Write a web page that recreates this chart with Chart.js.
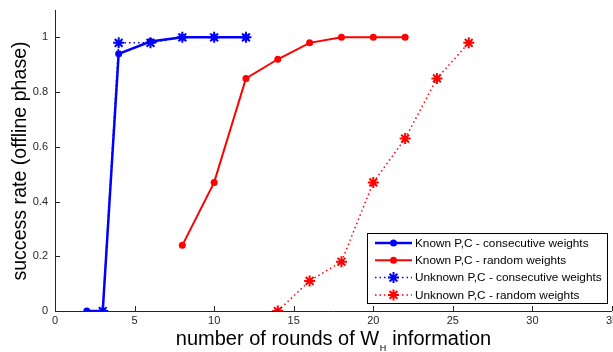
<!DOCTYPE html>
<html><head><meta charset="utf-8">
<script src="https://cdn.jsdelivr.net/npm/chart.js@4.4.1/dist/chart.umd.min.js"></script>
<style>html,body{margin:0;padding:0;background:#fff}#wrap{width:613px;height:352px}</style>
</head><body><div id="wrap"><canvas id="c" width="613" height="352"></canvas></div>
<script>
const knownConsecX = [2, 3, 4, 6, 8, 10, 12];
const knownConsecY = [0, 0, 0.94, 0.985, 1, 1, 1];
const knownRandomX = [8, 10, 12, 14, 16, 18, 20, 22];
const knownRandomY = [0.24, 0.47, 0.85, 0.92, 0.98, 1, 1, 1];
const unknownConsecX = [3, 4, 6, 8, 10, 12];
const unknownConsecY = [0, 0.98, 0.98, 1, 1, 1];
const unknownRandomX = [14, 16, 18, 20, 22, 24, 26];
const unknownRandomY = [0, 0.11, 0.18, 0.47, 0.63, 0.85, 0.98];
const seriesLabels = ["Known P,C - consecutive weights", "Known P,C - random weights", "Unknown P,C - consecutive weights", "Unknown P,C - random weights"];
const xTicks = [0, 5, 10, 15, 20, 25, 30, 35];
const yTicks = [0, 0.2, 0.4, 0.6, 0.8, 1];

const pts = (xs, ys) => xs.map((x, i) => ({x: x, y: ys[i]}));
const BLUE = '#0000ff', RED = '#ff0000';
const FONT = '"Liberation Sans", Arial, sans-serif';

const datasets = [
  {label: seriesLabels[0], data: pts(knownConsecX, knownConsecY), borderColor: BLUE, backgroundColor: BLUE, borderWidth: 2.5, pointStyle: 'circle', pointRadius: 3.5, pointBorderWidth: 0},
  {label: seriesLabels[1], data: pts(knownRandomX, knownRandomY), borderColor: RED, backgroundColor: RED, borderWidth: 2, pointStyle: 'circle', pointRadius: 3.5, pointBorderWidth: 0},
  {label: seriesLabels[2], data: pts(unknownConsecX, unknownConsecY), borderColor: BLUE, backgroundColor: BLUE, borderWidth: 1.5, borderDash: [1.5, 3], pointStyle: 'star', pointRadius: 5.5, pointBorderWidth: 2},
  {label: seriesLabels[3], data: pts(unknownRandomX, unknownRandomY), borderColor: RED, backgroundColor: RED, borderWidth: 1.5, borderDash: [1.5, 3], pointStyle: 'star', pointRadius: 5.5, pointBorderWidth: 2}
];

const decor = {
  id: 'decor',
  afterDraw(chart) {
    const ctx = chart.ctx, ca = chart.chartArea;
    const xs = chart.scales.x, ys = chart.scales.y;
    ctx.save();
    ctx.strokeStyle = '#262626'; ctx.lineWidth = 1;
    ctx.beginPath();
    ctx.moveTo(ca.left + 0.5, ca.top); ctx.lineTo(ca.left + 0.5, ca.bottom + 0.5);
    ctx.lineTo(ca.right, ca.bottom + 0.5);
    ctx.stroke();
    ctx.beginPath();
    xTicks.forEach(v => { const px = Math.round(xs.getPixelForValue(v)) + 0.5; ctx.moveTo(px, ca.bottom); ctx.lineTo(px, ca.bottom - 5); });
    yTicks.forEach(v => { const py = Math.round(ys.getPixelForValue(v)) + 0.5; ctx.moveTo(ca.left, py); ctx.lineTo(ca.left + 5, py); });
    ctx.stroke();
    ctx.fillStyle = '#262626';
    ctx.font = '11px ' + FONT; ctx.textAlign = 'center'; ctx.textBaseline = 'top';
    xTicks.forEach(v => ctx.fillText(String(v), xs.getPixelForValue(v), ca.bottom + 4));
    // x title with subscript
    ctx.fillStyle = '#000';
    const MAIN = '20px ' + FONT, SUB = '9px ' + FONT;
    ctx.textBaseline = 'alphabetic'; ctx.textAlign = 'left';
    const cx = (ca.left + ca.right) / 2;
    const t1 = 'number of rounds of W', sub = 'H', t2 = ' information';
    ctx.font = MAIN; const w1 = ctx.measureText(t1).width, w3 = ctx.measureText(t2).width;
    ctx.font = SUB; const w2 = ctx.measureText(sub).width + 1;
    const x0 = cx - (w1 + w2 + w3) / 2; const base = 345;
    ctx.font = MAIN; ctx.fillText(t1, x0, base);
    ctx.font = SUB; ctx.fillText(sub, x0 + w1 + 0.5, base + 6);
    ctx.font = MAIN; ctx.fillText(t2, x0 + w1 + w2, base);
    // y title
    ctx.save();
    ctx.font = '19.6px ' + FONT;
    ctx.textBaseline = 'middle';
    ctx.translate(21, 161);
    ctx.rotate(-Math.PI / 2);
    ctx.textAlign = 'center';
    ctx.fillText('success rate (offline phase)', 0, 0);
    ctx.restore();
    // legend
    const bw = 240, bh = 70;
    const bx = ca.right - 5 - bw, by = ca.bottom - 8 - bh;
    ctx.fillStyle = '#fff'; ctx.fillRect(bx, by, bw, bh);
    ctx.strokeStyle = '#000'; ctx.lineWidth = 1;
    ctx.strokeRect(Math.round(bx) + 0.5, Math.round(by) + 0.5, bw, bh);
    ctx.font = '11.8px ' + FONT; ctx.textAlign = 'left'; ctx.textBaseline = 'middle';
    chart.data.datasets.forEach((ds, i) => {
      const ry = by + 10 + i * 17.3;
      const lx1 = bx + 8, lx2 = bx + 45, mx = (lx1 + lx2) / 2;
      ctx.strokeStyle = ds.borderColor; ctx.lineWidth = ds.borderWidth;
      ctx.setLineDash(ds.borderDash || []);
      ctx.beginPath(); ctx.moveTo(lx1, ry); ctx.lineTo(lx2, ry); ctx.stroke();
      ctx.setLineDash([]);
      ctx.fillStyle = ds.borderColor;
      if (ds.pointStyle === 'circle') { ctx.beginPath(); ctx.arc(mx, ry, ds.pointRadius, 0, Math.PI * 2); ctx.fill(); }
      else { ctx.lineWidth = ds.pointBorderWidth; Chart.helpers.drawPoint(ctx, {pointStyle: 'star', radius: ds.pointRadius, borderWidth: ds.pointBorderWidth, rotation: 0}, mx, ry); }
      ctx.fillStyle = '#000';
      ctx.fillText(ds.label, bx + 48, ry + 0.5);
    });
    ctx.restore();
  }
};

new Chart(document.getElementById('c'), {
  type: 'line',
  data: {datasets: datasets},
  options: {
    responsive: false, animation: false, devicePixelRatio: 1,
    layout: {autoPadding: false, padding: {top: 10, right: 1, left: 0, bottom: 0}},
    plugins: {legend: {display: false}, tooltip: {enabled: false}},
    scales: {
      x: {
        type: 'linear', min: 0, max: 35,
        afterBuildTicks: s => { s.ticks = xTicks.map(v => ({value: v})); },
        afterFit: s => { s.height = 41; },
        grid: {display: false, drawTicks: false},
        border: {display: false},
        ticks: {display: false}
      },
      y: {
        type: 'linear', min: 0, max: 1.1,
        afterBuildTicks: s => { s.ticks = yTicks.map(v => ({value: v})); },
        afterFit: s => { s.width = 55; s.paddingTop = 0; s.paddingBottom = 0; },
        grid: {display: false, drawTicks: false},
        border: {display: false},
        ticks: {padding: 7, color: '#262626', font: {family: FONT, size: 11}, callback: v => String(Math.round(v * 10) / 10)}
      }
    }
  },
  plugins: [decor]
});
</script>
</body></html>
